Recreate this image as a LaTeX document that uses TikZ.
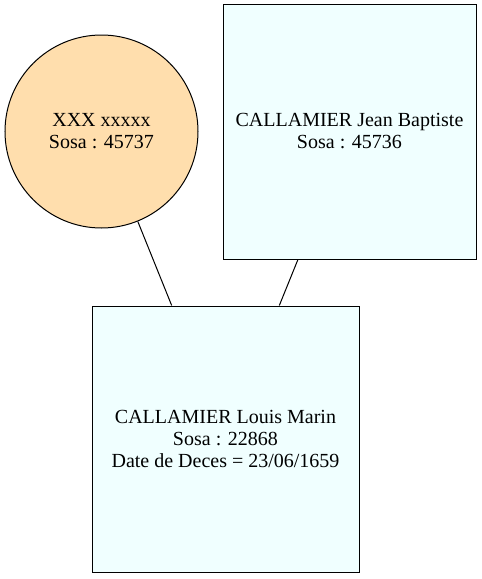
\documentclass[tikz,border=0pt]{standalone}
\usepackage{fontspec}
\setmainfont{Liberation Serif}
\definecolor{navajo}{HTML}{FFDEAD}
\definecolor{azur}{HTML}{F0FFFF}
\begin{document}
\begin{tikzpicture}[
  x=1pt, y=-1pt,
  person/.style={rectangle, draw, line width=1pt, fill=azur, align=center, font=\fontsize{20}{22}\selectfont},
  unknown/.style={circle, draw, line width=1pt, fill=navajo, align=center, inner sep=0pt, minimum size=193pt, font=\fontsize{20}{22}\selectfont},
  link/.style={line width=1pt}
]
  \useasboundingbox (0,0) rectangle (482,579);

  % Parents
  \node[unknown] (mother) at (101.5,131.5) {XXX xxxxx\\Sosa : 45737};
  \node[person, minimum width=253pt, minimum height=255pt] (father) at (349.5,131.5) {CALLAMIER Jean Baptiste\\Sosa : 45736};

  % Enfant
  \node[person, minimum width=267pt, minimum height=266pt] (child) at (225.5,439) {CALLAMIER Louis Marin\\Sosa : 22868\\Date de Deces = 23/06/1659};

  % Liens
  \draw[link] (mother) -- (child);
  \draw[link] (father) -- (child);
\end{tikzpicture}
\end{document}
